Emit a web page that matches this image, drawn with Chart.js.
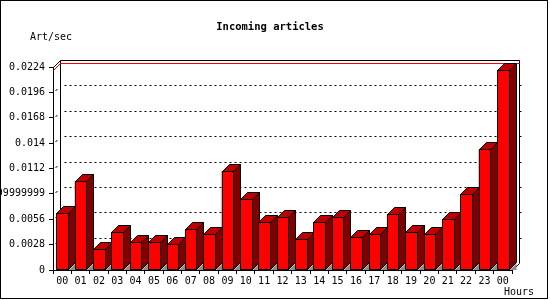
<!DOCTYPE html>
<html>
<head>
<meta charset="utf-8">
<script src="https://cdn.jsdelivr.net/npm/chart.js@4.4.0/dist/chart.umd.min.js"></script>
<style>
  html, body { margin: 0; padding: 0; background: #fff; }
  canvas { display: block; }
</style>
</head>
<body>
<canvas id="chart" width="550" height="300"></canvas>
<script>
// hourly incoming articles
const hours = ['00', '01', '02', '03', '04', '05', '06', '07', '08', '09', '10', '11',
  '12', '13', '14', '15', '16', '17', '18', '19', '20', '21', '22', '23', '00'];
const artPerSec = [0.00626, 0.00982, 0.00232, 0.00419, 0.00306, 0.00306, 0.00283, 0.00449,
  0.00394, 0.01089, 0.0078, 0.00526, 0.00581, 0.00339, 0.00526, 0.00581, 0.00361, 0.00394,
  0.00615, 0.00416, 0.00394, 0.00559, 0.00835, 0.01332, 0.02203];
const yTicks = [0, 0.0028, 0.0056, 0.0084, 0.0112, 0.014, 0.0168, 0.0196, 0.0224];
const yTickLabels = ['0', '0.0028', '0.0056', '0.00839999999999999', '0.0112', '0.014',
  '0.0168', '0.0196', '0.0224'];

const FONT = '"DejaVu Sans Mono", monospace';
const DEPTH = 7;

function line(ctx, pts) {
  ctx.beginPath();
  ctx.moveTo(pts[0][0], pts[0][1]);
  for (let i = 1; i < pts.length; i++) ctx.lineTo(pts[i][0], pts[i][1]);
  ctx.stroke();
}

function poly(ctx, pts, fill) {
  ctx.beginPath();
  ctx.moveTo(pts[0][0], pts[0][1]);
  for (let i = 1; i < pts.length; i++) ctx.lineTo(pts[i][0], pts[i][1]);
  ctx.closePath();
  ctx.fillStyle = fill;
  ctx.fill();
  ctx.stroke();
}

const threeD = {
  id: 'threeD',
  beforeDatasetsDraw(chart) {
    const ctx = chart.ctx;
    const a = chart.chartArea;
    const ys = chart.scales.y;
    const d = DEPTH;
    const L = a.left + 0.5, R = Math.round(a.right) + 0.5;
    const T = Math.round(ys.getPixelForValue(yTicks[yTicks.length - 1])) + 0.5;
    const B = Math.round(ys.getPixelForValue(0)) + 0.5;
    ctx.save();
    ctx.lineWidth = 1;
    ctx.strokeStyle = '#000';
    // dotted grid on the back wall
    ctx.setLineDash([2, 3]);
    for (let i = 1; i < yTicks.length - 1; i++) {
      const y = Math.round(ys.getPixelForValue(yTicks[i])) - d + 0.5;
      line(ctx, [[L + d + 4, y], [R + d + 3, y]]);
    }
    ctx.setLineDash([]);
    // little slashes on the left wall
    for (let i = 1; i < yTicks.length - 1; i++) {
      const y = Math.round(ys.getPixelForValue(yTicks[i]));
      line(ctx, [[L + 2, y - 1], [L + 4, y - 3]]);
    }
    // back frame
    line(ctx, [[L, T], [L + d, T - d], [R + d, T - d], [R + d, B - d], [R, B]]);
    line(ctx, [[L + d, T - d], [L + d, B - d]]);
    // red line at the maximum value
    const yMax = Math.round(ys.getPixelForValue(Math.max(...artPerSec))) + 0.5;
    ctx.strokeStyle = '#ff0000';
    line(ctx, [[L, yMax], [L + d, yMax - d], [R + d, yMax - d]]);
    ctx.restore();
  },
  afterDatasetsDraw(chart) {
    const ctx = chart.ctx;
    const d = DEPTH;
    ctx.save();
    ctx.lineWidth = 1;
    ctx.strokeStyle = '#000';
    chart.getDatasetMeta(0).data.forEach((el) => {
      const l = Math.round(el.x - el.width / 2) + 0.5;
      const r = Math.round(el.x + el.width / 2) + 0.5;
      const t = Math.round(el.y) + 0.5;
      const b = Math.round(el.base) - 0.5;
      poly(ctx, [[l, t], [r, t], [r, b], [l, b]], '#ff0000');
      poly(ctx, [[l, t], [l + d, t - d], [r + d, t - d], [r, t]], '#c00000');
      poly(ctx, [[r, t], [r + d, t - d], [r + d, b - d], [r, b]], '#800000');
      ctx.fillStyle = '#8c8c8c';
      ctx.beginPath();
      ctx.moveTo(r + 0.5, b + 0.5);
      ctx.lineTo(r + d, b - d + 1);
      ctx.lineTo(r + d, b + 0.5);
      ctx.closePath();
      ctx.fill();
    });
    ctx.restore();
  },
  afterDraw(chart) {
    const ctx = chart.ctx;
    ctx.save();
    ctx.strokeStyle = '#000';
    ctx.lineWidth = 1;
    ctx.strokeRect(0.5, 0.5, 547, 298);
    ctx.fillStyle = '#000';
    ctx.textBaseline = 'middle';
    ctx.textAlign = 'center';
    ctx.font = 'bold 10.5px ' + FONT;
    ctx.fillText('Incoming articles', 270, 27);
    ctx.font = '10px ' + FONT;
    ctx.textAlign = 'left';
    ctx.fillText('Art/sec', 30, 37);
    ctx.fillText('Hours', 504, 292);
    ctx.restore();
  }
};

new Chart(document.getElementById('chart'), {
  type: 'bar',
  data: {
    labels: hours,
    datasets: [{
      data: artPerSec,
      backgroundColor: '#ff0000',
      borderColor: '#000',
      borderWidth: 0,
      barPercentage: 0.63,
      categoryPercentage: 1.0
    }]
  },
  options: {
    responsive: false,
    animation: false,
    devicePixelRatio: 1,
    layout: { padding: { top: 67, right: 38, left: 0, bottom: 0 } },
    plugins: { legend: { display: false }, title: { display: false }, tooltip: { enabled: false } },
    scales: {
      x: {
        offset: true,
        grid: { offset: true, drawOnChartArea: false, color: '#000', tickLength: 4 },
        border: { color: '#000' },
        ticks: { autoSkip: false, maxRotation: 0, padding: 1, color: '#000', font: { family: FONT, size: 10 } },
        afterFit: (s) => { s.height = 30; }
      },
      y: {
        min: 0,
        max: 0.0224,
        afterBuildTicks: (s) => { s.ticks = yTicks.map((v) => ({ value: v })); },
        grid: { drawOnChartArea: false, color: '#000', tickLength: 4 },
        border: { color: '#000' },
        ticks: {
          padding: 4,
          color: '#000',
          font: { family: FONT, size: 10 },
          callback: (v, i) => yTickLabels[i]
        },
        afterFit: (s) => { s.width = 53; }
      }
    }
  },
  plugins: [threeD]
});
</script>
</body>
</html>
